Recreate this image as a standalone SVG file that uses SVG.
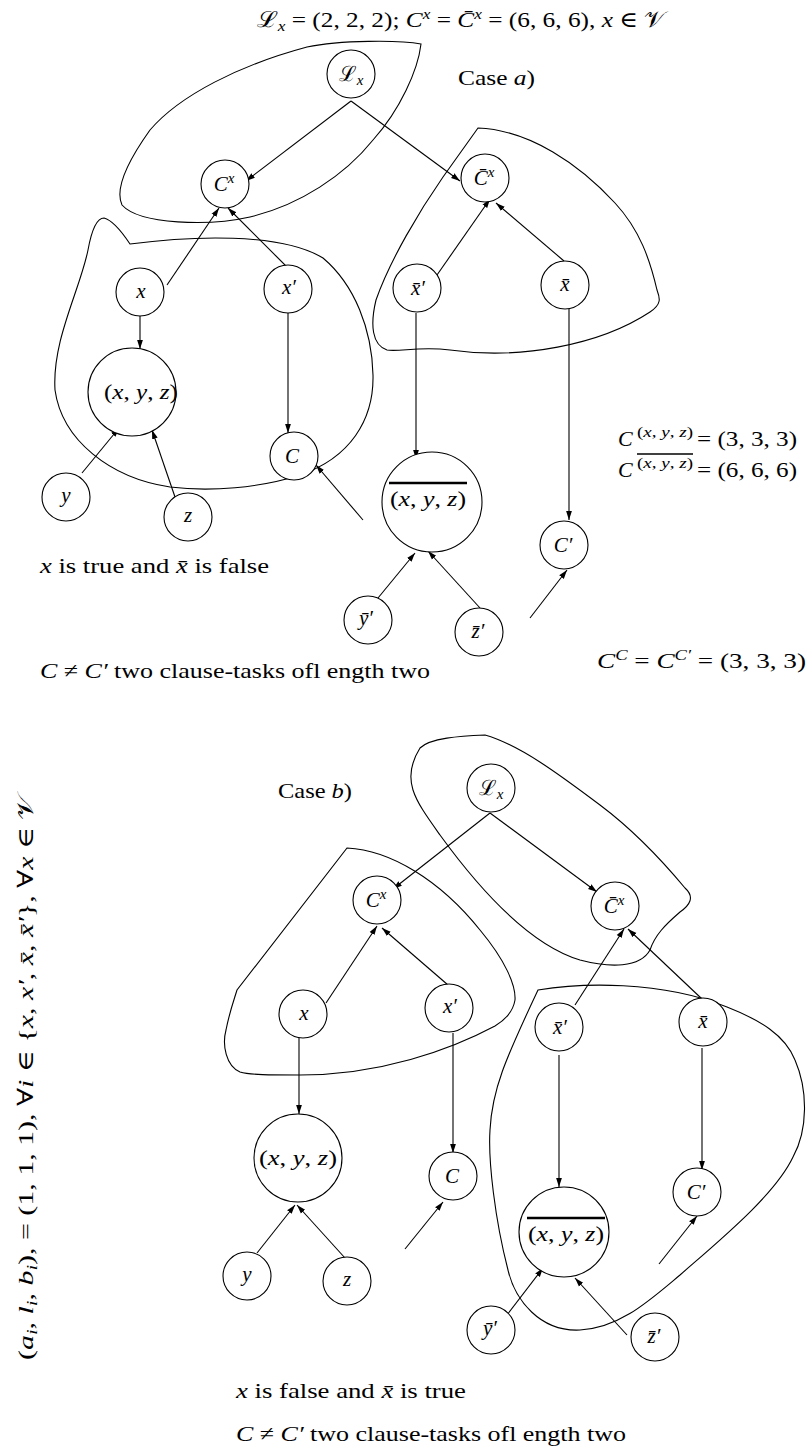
<svg xmlns="http://www.w3.org/2000/svg" width="808" height="1448" viewBox="0 0 808 1448">
<style>
.t{font-family:"Liberation Serif","DejaVu Serif",serif;font-size:22px;fill:#000}
.l{font-family:"Liberation Serif","DejaVu Serif",serif;font-size:21px;fill:#000;text-anchor:middle}
.i{font-style:italic}
.s{font-size:15px}
.n{fill:#fff;stroke:#000;stroke-width:1.1}
.e{fill:none;stroke:#000;stroke-width:1.1;marker-end:url(#ah)}
.b{fill:none;stroke:#000;stroke-width:1.1}
.ob{stroke:#000;stroke-width:2.5}
.o{stroke:#000;stroke-width:1.6}
</style>
<defs>
<marker id="ah" viewBox="0 0 10 10" refX="10" refY="5" markerWidth="9" markerHeight="9" markerUnits="userSpaceOnUse" orient="auto"><path d="M0,1.8 L10,5 L0,8.2 z" fill="#000"/></marker>
</defs>
<rect width="808" height="1448" fill="#fff"/>

<g id="blobs">
<path class="b" d="M 307 47 C 340 40, 400 40, 421 44 C 418 70, 400 110, 373 140 C 345 175, 300 205, 250 217 C 210 226, 140 225, 122 205 C 115 190, 125 165, 150 130 C 180 95, 240 65, 307 47 Z"/>
<path class="b" d="M 130 244 C 190 236, 280 232, 323 258 C 355 285, 372 330, 373 375 C 374 420, 350 458, 300 475 C 260 488, 210 492, 170 487 C 110 478, 62 440, 55 390 C 52 340, 80 290, 88 250 C 92 228, 97 218, 104 218 C 112 220, 122 232, 130 244 Z"/>
<path class="b" d="M 478 128 L 443 177 C 420 210, 390 260, 376 300 C 370 325, 372 345, 387 350 C 400 352, 420 346, 450 350 C 520 360, 600 345, 650 312 C 662 304, 660 298, 657 290 C 650 260, 640 230, 615 203 C 580 165, 530 130, 478 128 Z"/>
<path class="b" d="M 485 735 C 520 745, 560 775, 600 805 C 640 835, 670 870, 685 888 C 695 897, 690 905, 680 912 C 665 925, 655 935, 650 950 C 640 968, 610 968, 580 960 C 530 945, 480 890, 440 835 C 415 800, 400 780, 420 748 C 430 738, 460 736, 485 735 Z"/>
<path class="b" d="M 347 848 C 390 850, 440 880, 480 930 C 505 960, 516 985, 515 1000 C 513 1012, 505 1020, 495 1026 C 450 1050, 380 1075, 300 1075 C 270 1075, 250 1075, 240 1072 C 226 1066, 222 1045, 226 1030 C 230 1010, 234 1000, 237 990 L 347 848 Z"/>
<path class="b" d="M 538 990 C 580 983, 660 980, 727 1007 C 760 1020, 785 1035, 795 1060 C 808 1090, 808 1130, 793 1157 C 775 1195, 720 1240, 680 1275 C 650 1300, 620 1328, 580 1330 C 540 1332, 515 1300, 508 1270 C 495 1220, 488 1160, 490 1130 C 492 1090, 505 1060, 538 990 Z"/>
</g>

<g id="connectors">
<line class="e" x1="351" y1="101" x2="246" y2="181"/>
<line class="e" x1="351" y1="101" x2="460" y2="181"/>
<line class="e" x1="167" y1="285" x2="219" y2="208"/>
<line class="e" x1="297" y1="277" x2="228" y2="208"/>
<line class="e" x1="437" y1="275" x2="490" y2="199"/>
<line class="e" x1="564" y1="261" x2="496" y2="203"/>
<line class="e" x1="140" y1="315" x2="140" y2="349"/>
<line class="e" x1="288" y1="313" x2="288" y2="433"/>
<line class="e" x1="82" y1="473" x2="119" y2="428"/>
<line class="e" x1="175" y1="497" x2="152" y2="430"/>
<line class="e" x1="363" y1="520" x2="316" y2="465"/>
<line class="e" x1="416" y1="313" x2="416" y2="459"/>
<line class="e" x1="569" y1="309" x2="569" y2="520"/>
<line class="e" x1="378" y1="598" x2="415" y2="553"/>
<line class="e" x1="480" y1="608" x2="428" y2="551"/>
<line class="e" x1="530" y1="618" x2="567" y2="570"/>

<line class="e" x1="490" y1="813" x2="393" y2="889"/>
<line class="e" x1="490" y1="813" x2="597" y2="892"/>
<line class="e" x1="326" y1="1003" x2="377" y2="926"/>
<line class="e" x1="448" y1="985" x2="382" y2="928"/>
<line class="e" x1="575" y1="1005" x2="624" y2="929"/>
<line class="e" x1="702" y1="999" x2="628" y2="929"/>
<line class="e" x1="299" y1="1038" x2="299" y2="1114"/>
<line class="e" x1="453" y1="1033" x2="453" y2="1153"/>
<line class="e" x1="257" y1="1253" x2="295" y2="1205"/>
<line class="e" x1="345" y1="1258" x2="297" y2="1205"/>
<line class="e" x1="405" y1="1249" x2="443" y2="1202"/>
<line class="e" x1="559" y1="1055" x2="559" y2="1187"/>
<line class="e" x1="702" y1="1048" x2="702" y2="1170"/>
<line class="e" x1="507" y1="1315" x2="543" y2="1268"/>
<line class="e" x1="627" y1="1335" x2="575" y2="1278"/>
<line class="e" x1="659" y1="1264" x2="697" y2="1216"/>
</g>

<g id="a-Lx"><circle class="n" cx="351" cy="74" r="24"/><text class="l" x="351" y="81"><tspan>ℒ</tspan><tspan class="i s" dy="4">x</tspan></text></g>
<g id="a-Cx"><circle class="n" cx="225" cy="184" r="24"/><text class="l" x="224" y="191"><tspan class="i">C</tspan><tspan class="i s" dy="-8">x</tspan></text></g>
<g id="a-Cbx"><circle class="n" cx="485" cy="178" r="24"/><text class="l" x="484" y="185"><tspan class="i">C̄</tspan><tspan class="i s" dy="-8">x</tspan></text></g>
<g id="a-x"><circle class="n" cx="140" cy="292" r="24"/><text class="l i" x="141" y="298">x</text></g>
<g id="a-xp"><circle class="n" cx="288" cy="289" r="24"/><text class="l i" x="289" y="294">x′</text></g>
<g id="a-xbp"><circle class="n" cx="417" cy="288" r="24"/><text class="l i" x="418" y="295">x̄′</text></g>
<g id="a-xb"><circle class="n" cx="565" cy="285" r="24"/><text class="l i" x="565" y="291">x̄</text></g>
<g id="a-xyz"><circle class="n" cx="132" cy="392" r="44"/><text class="l" x="141" y="399" textLength="74" lengthAdjust="spacingAndGlyphs">(<tspan class="i">x</tspan>, <tspan class="i">y</tspan>, <tspan class="i">z</tspan>)</text></g>
<g id="a-C"><circle class="n" cx="294" cy="456" r="24"/><text class="l i" x="292" y="463">C</text></g>
<g id="a-y"><circle class="n" cx="66" cy="497" r="24"/><text class="l i" x="66" y="502">y</text></g>
<g id="a-z"><circle class="n" cx="188" cy="517" r="24"/><text class="l i" x="188" y="522">z</text></g>
<g id="a-xyzb"><circle class="n" cx="432" cy="502" r="50"/><line class="ob" x1="389" y1="483" x2="467" y2="483"/><text class="l" x="428" y="506" textLength="76" lengthAdjust="spacingAndGlyphs">(<tspan class="i">x</tspan>, <tspan class="i">y</tspan>, <tspan class="i">z</tspan>)</text></g>
<g id="a-Cp"><circle class="n" cx="564" cy="545" r="24"/><text class="l i" x="563" y="552">C′</text></g>
<g id="a-ybp"><circle class="n" cx="368" cy="620" r="24"/><text class="l i" x="366" y="625">ȳ′</text></g>
<g id="a-zbp"><circle class="n" cx="479" cy="632" r="24"/><text class="l i" x="478" y="638">z̄′</text></g>

<g id="b-Lx"><circle class="n" cx="491" cy="788" r="24"/><text class="l" x="491" y="795"><tspan>ℒ</tspan><tspan class="i s" dy="4">x</tspan></text></g>
<g id="b-Cx"><circle class="n" cx="377" cy="900" r="24"/><text class="l" x="376" y="907"><tspan class="i">C</tspan><tspan class="i s" dy="-8">x</tspan></text></g>
<g id="b-Cbx"><circle class="n" cx="615" cy="906" r="24"/><text class="l" x="614" y="913"><tspan class="i">C̄</tspan><tspan class="i s" dy="-8">x</tspan></text></g>
<g id="b-x"><circle class="n" cx="303" cy="1014" r="24"/><text class="l i" x="304" y="1020">x</text></g>
<g id="b-xp"><circle class="n" cx="449" cy="1008" r="24"/><text class="l i" x="450" y="1013">x′</text></g>
<g id="b-xbp"><circle class="n" cx="559" cy="1027" r="24"/><text class="l i" x="560" y="1034">x̄′</text></g>
<g id="b-xb"><circle class="n" cx="703" cy="1022" r="24"/><text class="l i" x="703" y="1028">x̄</text></g>
<g id="b-xyz"><circle class="n" cx="298" cy="1158" r="44"/><text class="l" x="298" y="1165" textLength="78" lengthAdjust="spacingAndGlyphs">(<tspan class="i">x</tspan>, <tspan class="i">y</tspan>, <tspan class="i">z</tspan>)</text></g>
<g id="b-C"><circle class="n" cx="453" cy="1176" r="24"/><text class="l i" x="452" y="1183">C</text></g>
<g id="b-y"><circle class="n" cx="247" cy="1276" r="24"/><text class="l i" x="247" y="1281">y</text></g>
<g id="b-z"><circle class="n" cx="347" cy="1281" r="24"/><text class="l i" x="347" y="1286">z</text></g>
<g id="b-xyzb"><circle class="n" cx="564" cy="1232" r="45"/><line class="ob" x1="527" y1="1218" x2="605" y2="1218"/><text class="l" x="566" y="1241" textLength="76" lengthAdjust="spacingAndGlyphs">(<tspan class="i">x</tspan>, <tspan class="i">y</tspan>, <tspan class="i">z</tspan>)</text></g>
<g id="b-Cp"><circle class="n" cx="697" cy="1192" r="24"/><text class="l i" x="696" y="1199">C′</text></g>
<g id="b-ybp"><circle class="n" cx="491" cy="1330" r="24"/><text class="l i" x="490" y="1335">ȳ′</text></g>
<g id="b-zbp"><circle class="n" cx="655" cy="1337" r="24"/><text class="l i" x="654" y="1343">z̄′</text></g>

<g id="labels">
<text class="t" x="257" y="27" textLength="408" lengthAdjust="spacingAndGlyphs"><tspan>ℒ</tspan><tspan class="i s" dy="4">x</tspan><tspan dy="-4"> = (2, 2, 2); </tspan><tspan class="i">C</tspan><tspan class="i s" dy="-8">x</tspan><tspan dy="8"> = </tspan><tspan class="i">C̄</tspan><tspan class="i s" dy="-8">x</tspan><tspan dy="8"> = (6, 6, 6), </tspan><tspan class="i">x</tspan> ∈ 𝒱</text>
<text class="t" x="458" y="85" textLength="77" lengthAdjust="spacingAndGlyphs">Case <tspan class="i">a</tspan>)</text>
<text class="t i" x="618" y="446">C</text>
<text class="t s" x="637" y="437" textLength="56" lengthAdjust="spacingAndGlyphs">(<tspan class="i">x</tspan>, <tspan class="i">y</tspan>, <tspan class="i">z</tspan>)</text>
<text class="t" x="697" y="446" textLength="100" lengthAdjust="spacingAndGlyphs">= (3, 3, 3)</text>
<text class="t i" x="618" y="477">C</text>
<text class="t s" x="637" y="468" textLength="56" lengthAdjust="spacingAndGlyphs">(<tspan class="i">x</tspan>, <tspan class="i">y</tspan>, <tspan class="i">z</tspan>)</text>
<text class="t" x="697" y="477" textLength="100" lengthAdjust="spacingAndGlyphs">= (6, 6, 6)</text>
<line class="o" x1="637" y1="454" x2="693" y2="454"/>
<text class="t" x="40" y="573" textLength="229" lengthAdjust="spacingAndGlyphs"><tspan class="i">x</tspan> is true and <tspan class="i">x̄</tspan> is false</text>
<text class="t" x="597" y="668" textLength="209" lengthAdjust="spacingAndGlyphs"><tspan class="i">C</tspan><tspan class="i s" dy="-8">C</tspan><tspan dy="8"> = </tspan><tspan class="i">C</tspan><tspan class="i s" dy="-8">C′</tspan><tspan dy="8"> = (3, 3, 3)</tspan></text>
<text class="t" x="40" y="678" textLength="390" lengthAdjust="spacingAndGlyphs"><tspan class="i">C</tspan> ≠ <tspan class="i">C′</tspan> two clause-tasks ofl ength two</text>
<text class="t" x="278" y="798" textLength="74" lengthAdjust="spacingAndGlyphs">Case <tspan class="i">b</tspan>)</text>
<text class="t" transform="translate(33,1360) rotate(-90)" textLength="565" lengthAdjust="spacingAndGlyphs">(<tspan class="i">a</tspan><tspan class="i s" dy="4">i</tspan><tspan dy="-4">, </tspan><tspan class="i">l</tspan><tspan class="i s" dy="4">i</tspan><tspan dy="-4">, </tspan><tspan class="i">b</tspan><tspan class="i s" dy="4">i</tspan><tspan dy="-4">), = (1, 1, 1), ∀</tspan><tspan class="i">i</tspan> ∈ {<tspan class="i">x</tspan>, <tspan class="i">x′</tspan>, <tspan class="i">x̄</tspan>, <tspan class="i">x̄′</tspan>}, ∀<tspan class="i">x</tspan> ∈ 𝒱</text>
<text class="t" x="236" y="1398" textLength="230" lengthAdjust="spacingAndGlyphs"><tspan class="i">x</tspan> is false and <tspan class="i">x̄</tspan> is true</text>
<text class="t" x="236" y="1441" textLength="390" lengthAdjust="spacingAndGlyphs"><tspan class="i">C</tspan> ≠ <tspan class="i">C′</tspan> two clause-tasks ofl ength two</text>
</g>
</svg>
